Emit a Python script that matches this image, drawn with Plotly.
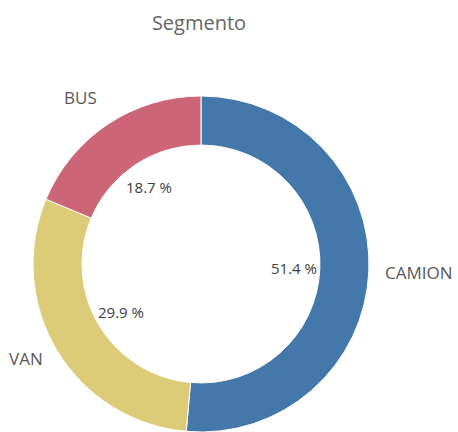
import math
import plotly.graph_objects as go

# Data
categories = ["CAMION", "VAN", "BUS"]
values = [51.4, 29.9, 18.7]
colors = ["#4477aa", "#ddcc77", "#cc6677"]
title_text = "Segmento"

W, H = 458, 432
CX, CY = 201, 264      # donut centre (px from top-left)
R_OUT = 168
HOLE = 0.708

fig = go.Figure(go.Pie(
    labels=categories,
    values=values,
    sort=False,
    direction="clockwise",
    rotation=0,
    hole=HOLE,
    textinfo="none",
    hoverinfo="label+percent",
    marker=dict(colors=colors, line=dict(color="white", width=1)),
    domain=dict(x=[(CX - R_OUT) / W, (CX + R_OUT) / W],
                y=[1 - (CY + R_OUT) / H, 1 - (CY - R_OUT) / H]),
    showlegend=False,
))

def to_paper(px, py):
    return px / W, 1 - py / H

total = sum(values)
annotations = []
cum = 0.0
for cat, v in zip(categories, values):
    mid = (cum + v / 2) / total * 2 * math.pi
    cum += v
    s, c = math.sin(mid), math.cos(mid)
    # percentage inside the hole
    px, py = CX + 93 * s, CY - 93 * c
    x, y = to_paper(px, py)
    annotations.append(dict(x=x, y=y, xref="paper", yref="paper",
                            text=f"{v / total * 100:.1f} %", showarrow=False,
                            xanchor="center", yanchor="middle",
                            font=dict(family="Open Sans", size=15, color="#404040")))
    # category label outside
    r_lab = 184 if c > 0.3 else 182
    px, py = CX + r_lab * s, CY - r_lab * c
    x, y = to_paper(px, py)
    xa = "left" if s > 0 else "right"
    ya = "bottom" if c > 0.3 else "middle"
    annotations.append(dict(x=x, y=y, xref="paper", yref="paper",
                            text=cat, showarrow=False,
                            xanchor=xa, yanchor=ya,
                            font=dict(family="Open Sans", size=17, color="#595959")))

fig.update_layout(
    width=W, height=H,
    margin=dict(l=0, r=0, t=0, b=0),
    paper_bgcolor="white",
    plot_bgcolor="white",
    title=dict(text=title_text, x=199 / W, y=1 - 23 / H, xanchor="center", yanchor="middle",
               font=dict(family="Open Sans", size=20, color="#666666")),
    annotations=annotations,
)

fig.write_html(
    "out.html",
    config={"displayModeBar": False},
    post_script="document.body.style.margin='0';document.documentElement.style.overflow='hidden';document.body.style.overflow='hidden';",
)
